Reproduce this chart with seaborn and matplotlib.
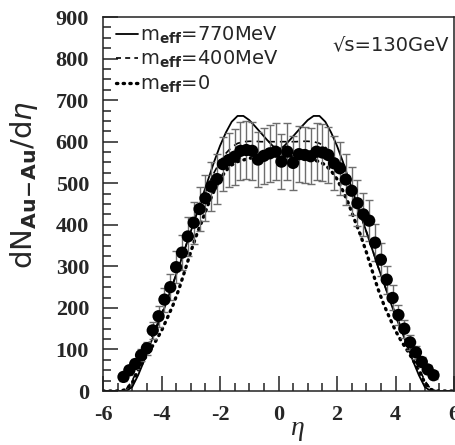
import matplotlib
matplotlib.use("Agg")
import matplotlib.pyplot as plt
import seaborn as sns
from matplotlib.lines import Line2D
from matplotlib.ticker import MultipleLocator

# measured dN/deta, Au+Au at sqrt(s)=130 GeV
eta_data = [-5.3, -5.1, -4.9, -4.7, -4.5, -4.3, -4.1, -3.9, -3.7, -3.5, -3.3, -3.1,
            -2.9, -2.7, -2.5, -2.3, -2.1, -1.9, -1.7, -1.5, -1.3, -1.1, -0.9, -0.7,
            -0.5, -0.3, -0.1, 0.1, 0.3, 0.5, 0.7, 0.9, 1.1, 1.3, 1.5, 1.7, 1.9, 2.1,
            2.3, 2.5, 2.7, 2.9, 3.1, 3.3, 3.5, 3.7, 3.9, 4.1, 4.3, 4.5, 4.7, 4.9, 5.1, 5.3]
dndeta = [34, 50, 65, 86, 103, 146, 180, 220, 250, 298, 333, 372,
          405, 438, 464, 492, 510, 546, 556, 564, 578, 580, 578, 557,
          566, 572, 576, 552, 576, 549, 570, 568, 565, 576, 574, 568, 548, 536,
          509, 482, 452, 425, 410, 357, 316, 268, 224, 183, 150, 117, 93, 70, 52, 38]
dndeta_err = [9, 11, 12, 14, 16, 21, 25, 29, 32, 38, 42, 46,
              50, 53, 56, 59, 61, 65, 66, 67, 69, 69, 69, 66,
              67, 68, 68, 66, 68, 65, 68, 67, 67, 68, 68, 67, 65, 64,
              61, 58, 55, 52, 50, 44, 40, 34, 30, 25, 22, 18, 15, 13, 11, 9]

# model curves
eta_th = [-6.0, -5.8, -5.6, -5.4, -5.2, -5.0, -4.8, -4.6, -4.4, -4.2, -4.0, -3.8,
          -3.6, -3.4, -3.2, -3.0, -2.8, -2.6, -2.4, -2.2, -2.0, -1.8, -1.6, -1.4,
          -1.2, -1.0, -0.8, -0.6, -0.4, -0.2, 0.0, 0.2, 0.4, 0.6, 0.8, 1.0, 1.2,
          1.4, 1.6, 1.8, 2.0, 2.2, 2.4, 2.6, 2.8, 3.0, 3.2, 3.4, 3.6, 3.8, 4.0,
          4.2, 4.4, 4.6, 4.8, 5.0, 5.2, 5.4, 5.6, 5.8, 6.0]
m770 = [0, 0, 0, 0, 0, 10, 38, 72, 110, 146, 180, 220,
        260, 300, 342, 384, 426, 468, 510, 552, 590, 622, 648, 662,
        662, 652, 637, 621, 605, 590, 580, 590, 605, 621, 637, 652, 662,
        662, 648, 622, 590, 552, 510, 468, 426, 384, 342, 300, 260, 220, 180,
        146, 110, 72, 38, 10, 0, 0, 0, 0, 0]
m400 = [0, 0, 0, 0, 5, 25, 55, 88, 120, 152, 186, 222,
        260, 300, 343, 385, 425, 462, 496, 526, 552, 572, 587, 596,
        600, 601, 601, 600, 600, 600, 600, 600, 600, 600, 601, 601, 600,
        596, 587, 572, 552, 526, 496, 462, 425, 385, 343, 300, 260, 222, 186,
        152, 120, 88, 55, 25, 5, 0, 0, 0, 0]
m0 = [0, 0, 0, 0, 4, 20, 50, 75, 98, 120, 145, 176,
      208, 246, 290, 335, 376, 412, 450, 482, 510, 530, 544, 552,
      556, 560, 562, 564, 565, 565, 565, 565, 565, 564, 562, 560, 556,
      552, 544, 530, 510, 482, 450, 412, 376, 335, 290, 246, 208, 176, 145,
      120, 98, 75, 50, 20, 4, 0, 0, 0, 0]

sns.set_style("ticks")
plt.rcParams['font.family'] = ['DejaVu Sans']
plt.rcParams['axes.unicode_minus'] = False

fig = plt.figure(figsize=(4.55, 4.45), dpi=100)
ax = fig.add_axes([0.2264, 0.1213, 0.7714, 0.8404])

sns.lineplot(x=eta_th, y=m770, ax=ax, color='black', lw=1.3)
sns.lineplot(x=eta_th, y=m400, ax=ax, color='black', lw=1.2, linestyle=(0, (4, 3)))
sns.lineplot(x=eta_th, y=m0, ax=ax, color='black', lw=2.4,
             linestyle=(0, (0.4, 1.6)), dash_capstyle='round')

ax.errorbar(eta_data, dndeta, yerr=dndeta_err, fmt='none', ecolor='#6e6e6e',
            elinewidth=1.0, capsize=3, capthick=1.0, zorder=3)
sns.scatterplot(x=eta_data, y=dndeta, ax=ax, color='black', s=78,
                edgecolor='none', zorder=4)

ax.set_xlim(-6, 6)
ax.set_ylim(0, 900)
ax.xaxis.set_major_locator(MultipleLocator(2))
ax.xaxis.set_minor_locator(MultipleLocator(0.5))
ax.yaxis.set_major_locator(MultipleLocator(100))
ax.yaxis.set_minor_locator(MultipleLocator(25))
ax.tick_params(which='both', direction='in', top=False, right=False,
               width=1.1, color='#222222')
ax.tick_params(which='major', length=11, pad=10)
ax.tick_params(which='minor', length=5.5)
for lab in ax.get_xticklabels() + ax.get_yticklabels():
    lab.set_fontfamily('Liberation Serif')
    lab.set_fontweight('bold')
    lab.set_fontsize(16)
for sp in ax.spines.values():
    sp.set_linewidth(1.1)
    sp.set_color('#222222')

ax.set_xlabel('η', fontfamily='Liberation Serif', fontstyle='italic', fontsize=20)
ax.xaxis.set_label_coords(0.553, -0.068)
ax.set_ylabel(r'dN$_{\mathbf{Au\!-\!Au}}$/d$\eta$', fontsize=21)
ax.yaxis.set_label_coords(-0.18, 0.55)

handles = [Line2D([], [], color='black', lw=1.3),
           Line2D([], [], color='black', lw=1.2, linestyle=(0, (3, 2.5))),
           Line2D([], [], color='black', lw=2.4, linestyle=(0, (0.4, 1.6)),
                  dash_capstyle='round')]
labels = [r'm$_{\mathbf{eff}}$=770MeV', r'm$_{\mathbf{eff}}$=400MeV',
          r'm$_{\mathbf{eff}}$=0']
ax.legend(handles, labels, loc='upper left', frameon=False, fontsize=14,
          handlelength=1.1, handletextpad=0.1, labelspacing=0.15,
          borderaxespad=0.1, bbox_to_anchor=(0.01, 1.005))
ax.text(0.985, 0.925, '√s=130GeV', transform=ax.transAxes, ha='right',
        va='center', fontsize=14)

fig.savefig('out.png', dpi=100)
